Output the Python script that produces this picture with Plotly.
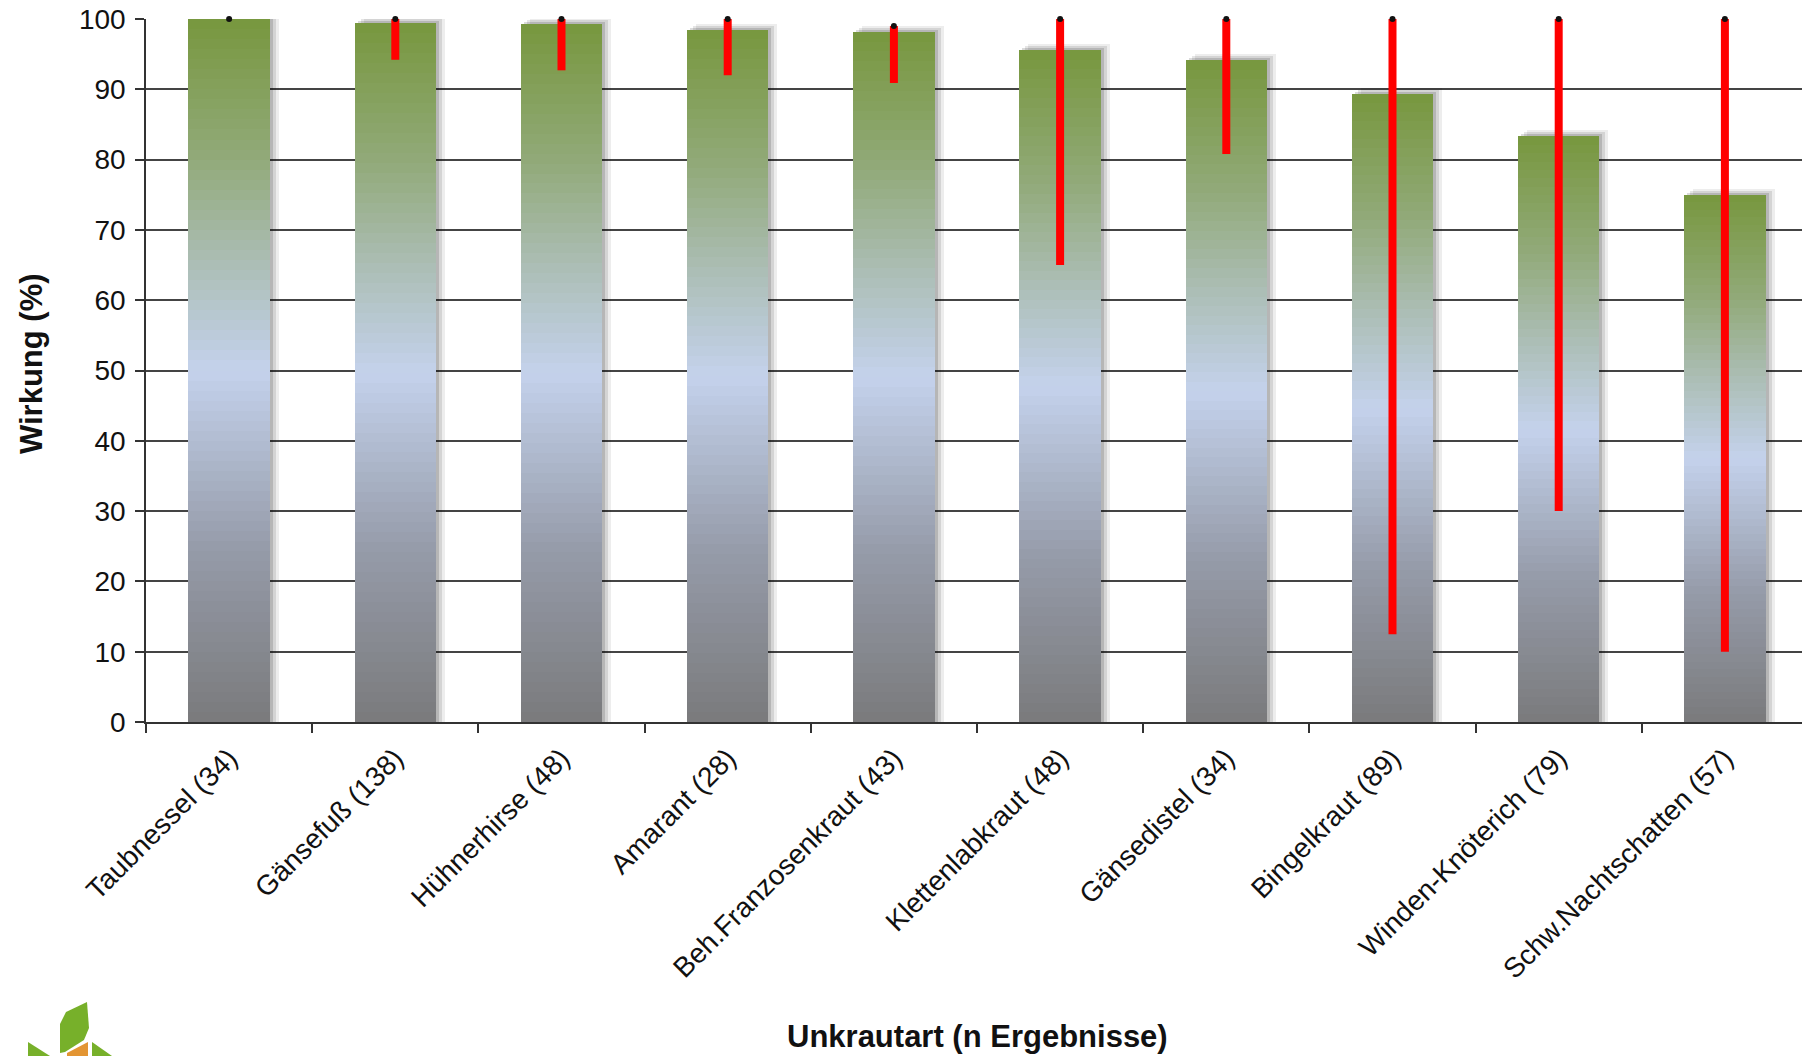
import plotly.graph_objects as go

# ---------------- data ----------------
categories = ["Taubnessel (34)", "Gänsefuß (138)", "Hühnerhirse (48)", "Amarant (28)",
              "Beh.Franzosenkraut (43)", "Klettenlabkraut (48)", "Gänsedistel (34)",
              "Bingelkraut (89)", "Winden-Knöterich (79)", "Schw.Nachtschatten (57)"]
wirkung_mean = [100.0, 99.4, 99.3, 98.5, 98.2, 95.6, 94.1, 89.3, 83.3, 75.0]
wirkung_max = [100, 100, 100, 100, 99, 100, 100, 100, 100, 100]
wirkung_min = [100, 94.2, 92.7, 92.0, 90.9, 65.0, 80.8, 12.5, 30.0, 10.0]
y_ticks = [0, 10, 20, 30, 40, 50, 60, 70, 80, 90, 100]

# ---------------- layout constants (page pixels) ----------------
PAGE_W, PAGE_H = 1802, 1056
W, H = PAGE_W, PAGE_H
PLOT_L, PLOT_T, PLOT_B = 146, 19, 722   # page coords of plot area
ML = PLOT_L
MT = PLOT_T
MB = PAGE_H - PLOT_B
MR = 0
PW = W - ML - MR
PH = H - MT - MB
CAT_PX = 166.2
BAR_W = 0.49

FONT = "Liberation Sans, Arial, sans-serif"

stops = [
    (0.00, (122, 122, 124)),
    (0.25, (150, 156, 170)),
    (0.50, (196, 210, 236)),
    (0.65, (172, 190, 182)),
    (0.80, (146, 170, 122)),
    (1.00, (119, 151, 62)),
]


def grad(t):
    for (t0, c0), (t1, c1) in zip(stops[:-1], stops[1:]):
        if t <= t1:
            f = (t - t0) / (t1 - t0)
            c = [round(a + (b - a) * f) for a, b in zip(c0, c1)]
            return "rgb(%d,%d,%d)" % tuple(c)
    return "rgb(%d,%d,%d)" % stops[-1][1]


fig = go.Figure()

# soft drop shadow behind bars
for d_px, up_px, alpha in [(9, 6, 0.07), (6, 4, 0.10), (3, 2, 0.14)]:
    fig.add_trace(go.Bar(
        x=categories,
        y=[v + up_px * 100 / PH for v in wirkung_mean],
        width=BAR_W,
        offset=-BAR_W / 2 + d_px / CAT_PX,
        marker=dict(color="rgba(0,0,0,%.2f)" % alpha, line=dict(width=0)),
        hoverinfo="skip", showlegend=False,
    ))

# gradient bars: overlapping layers from bottom to top
N = 70
for k in range(N):
    t = (k + 0.5) / N
    fig.add_trace(go.Bar(
        x=categories,
        y=[v * (1 - k / N) for v in wirkung_mean],
        base=[v * k / N for v in wirkung_mean],
        width=BAR_W,
        marker=dict(color=grad(t), line=dict(width=0)),
        hoverinfo="skip", showlegend=False,
    ))

# red min-max range bars
fig.add_trace(go.Scatter(
    x=categories, y=wirkung_mean, mode="markers",
    marker=dict(size=1, opacity=0),
    error_y=dict(type="data", symmetric=False,
                 array=[mx - m for mx, m in zip(wirkung_max, wirkung_mean)],
                 arrayminus=[m - mn for m, mn in zip(wirkung_mean, wirkung_min)],
                 color="#ff0000", thickness=8, width=0),
    cliponaxis=False, hoverinfo="skip", showlegend=False,
))
# black caps at max
fig.add_trace(go.Scatter(
    x=categories, y=wirkung_max, mode="markers",
    marker=dict(symbol="circle", size=6, color="#111111", line=dict(width=0)),
    cliponaxis=False, hoverinfo="skip", showlegend=False,
))


def px2paper(px, py):
    """page pixel -> paper coords"""
    return (px - PLOT_L) / PW, (PLOT_B - py) / PH


def path(points):
    pts = [px2paper(x, y) for x, y in points]
    return "M " + " L ".join("%.5f,%.5f" % p for p in pts) + " Z"


logo = [
    ([(60, 1053), (60, 1024), (66, 1012), (87, 1002), (89, 1028), (84, 1040), (65, 1052)], "#77b02a"),
    ([(28, 1042), (50, 1056), (28, 1056)], "#77b02a"),
    ([(67, 1053), (88, 1042), (88, 1056), (67, 1056)], "#e39533"),
    ([(92, 1042), (112, 1056), (92, 1056)], "#77b02a"),
]
shapes = [dict(type="path", xref="paper", yref="paper", path=path(p),
               fillcolor=c, line=dict(width=0), layer="above")
          for p, c in logo]

yt_x, yt_y = px2paper(31, 364)
xt_x, xt_y = px2paper(977, 1036)
annotations = [
    dict(text="<b>Wirkung (%)</b>", xref="paper", yref="paper", x=yt_x, y=yt_y,
         xanchor="center", yanchor="middle", textangle=-90, showarrow=False,
         font=dict(size=31, family=FONT, color="#111111")),
    dict(text="<b>Unkrautart (n Ergebnisse)</b>", xref="paper", yref="paper", x=xt_x, y=xt_y,
         xanchor="center", yanchor="middle", showarrow=False,
         font=dict(size=31, family=FONT, color="#111111")),
]

fig.update_layout(
    width=W, height=H,
    margin=dict(l=ML, r=MR, t=MT, b=MB, pad=0),
    paper_bgcolor="white", plot_bgcolor="white",
    barmode="overlay", bargap=0,
    showlegend=False,
    font=dict(family=FONT, size=28, color="#111111"),
    shapes=shapes, annotations=annotations,
)
fig.update_xaxes(
    type="category", range=[-0.5, -0.5 + PW / CAT_PX],
    tickson="boundaries", ticks="outside", ticklen=9, tickwidth=1.5, tickcolor="#333333",
    showline=True, linecolor="#333333", linewidth=1.5,
    showgrid=False, tickangle=-45, tickfont=dict(size=28, family=FONT, color="#111111"),
    ticklabelstandoff=7,
    automargin=False,
)
fig.update_yaxes(
    range=[0, 100], tickvals=y_ticks, ticks="outside", ticklen=9, tickwidth=1.5,
    tickcolor="#333333", showline=True, linecolor="#333333", linewidth=1.5,
    showgrid=True, gridcolor="#444444", gridwidth=1.6, zeroline=False,
    tickfont=dict(size=28, family=FONT, color="#111111"), ticklabelstandoff=4,
    ticklabeloverflow="allow",
    automargin=False,
)

fig.write_html(
    "out.html",
    config={"displayModeBar": False},
    post_script="document.body.style.margin='0';document.body.style.overflow='hidden';",
)
